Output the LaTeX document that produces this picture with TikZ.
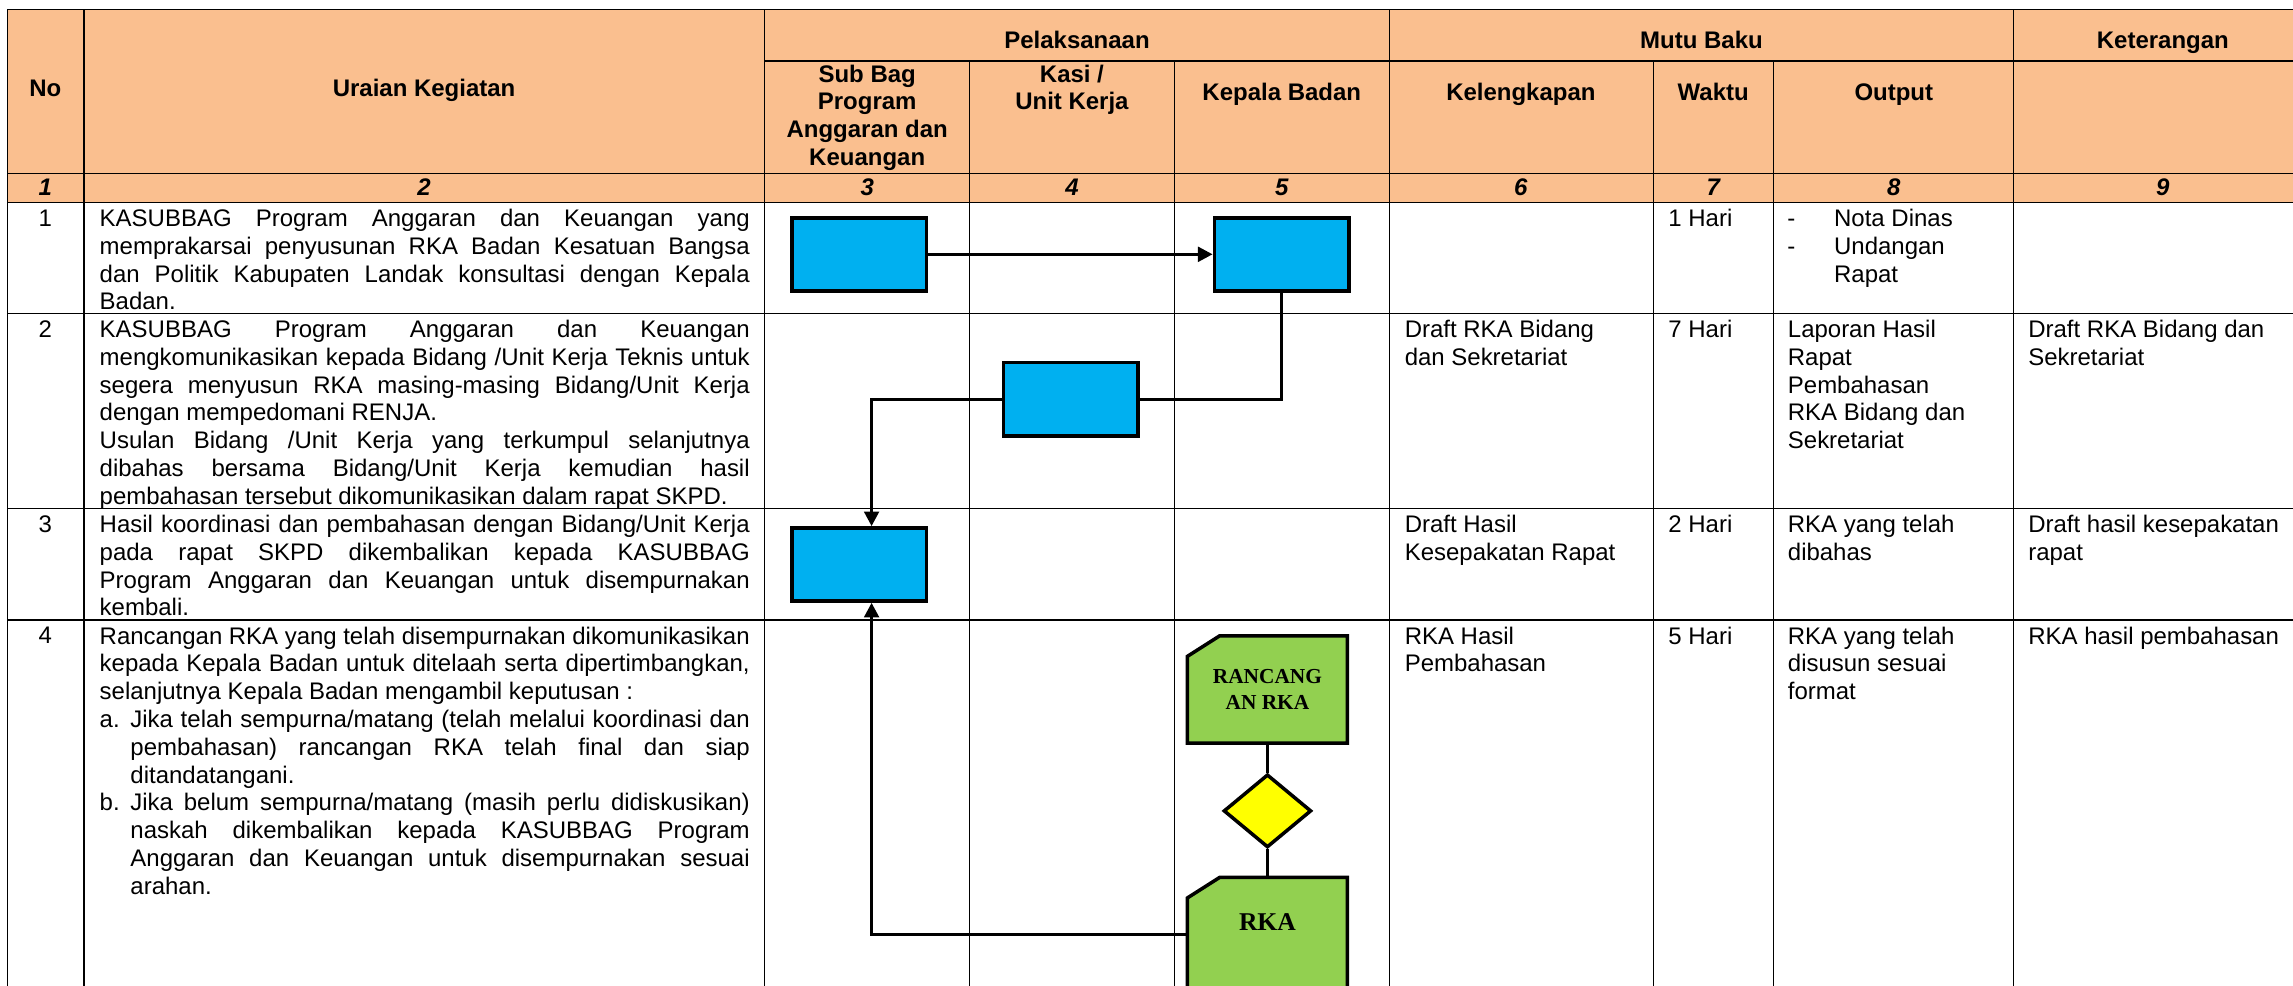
\documentclass[tikz,border=0pt]{standalone}
\usepackage{fontspec}
\setmainfont{Liberation Sans}
\newfontfamily\cardserif{Liberation Serif}
\usetikzlibrary{arrows.meta,shapes.geometric}

\definecolor{headfill}{HTML}{FABF8F}
\definecolor{stepblue}{HTML}{00B0F0}
\definecolor{docgreen}{HTML}{92D050}
\definecolor{choiceyellow}{HTML}{FFFF00}

\newcommand{\cellfont}{\fontsize{16.4}{19}\selectfont\frenchspacing\hyphenpenalty=10000\exhyphenpenalty=10000\tolerance=10000\hbadness=10000}
\newcommand{\headfont}{\fontsize{16.4}{19}\selectfont\bfseries}
\newcommand{\numfont}{\fontsize{16.4}{19}\selectfont\bfseries\itshape}
\newcommand{\tallstrut}{\rule{0pt}{12.2pt}}
\newcommand{\listlabel}[1]{\makebox[21pt][l]{#1}}
\newcommand{\dashlabel}[1]{\makebox[32pt][l]{#1}}
% green document card with the top-left corner cut off
\newcommand{\cardoutline}[1]{%
  \filldraw[cardedge] ([xshift=22pt]#1.north west) -- (#1.north east) -- (#1.south east)
    -- (#1.south west) -- ([yshift=-14pt]#1.north west) -- cycle;}

\tikzset{
  tableline/.style={line width=0.9pt, draw=black},
  stepbox/.style={rectangle, draw=black, line width=2.4pt, fill=stepblue,
    minimum width=92pt, minimum height=50pt, inner sep=0pt},
  cardbox/.style={rectangle, minimum width=109pt, inner sep=0pt},
  cardedge/.style={draw=black, line width=2.4pt, fill=docgreen},
  choice/.style={diamond, draw=black, line width=2.4pt, fill=choiceyellow,
    minimum width=60pt, minimum height=50pt, inner sep=0pt},
  cardtext/.style={font=\fontsize{14.6}{17.8}\selectfont\cardserif\bfseries, align=center, inner sep=0pt},
  cardbig/.style={font=\fontsize{17.5}{20}\selectfont\cardserif\bfseries, inner sep=0pt, anchor=base},
  link/.style={line width=2.2pt, draw=black},
  linkarrow/.style={link, -{Triangle[length=10pt,width=10pt]}},
  headtext/.style={font=\headfont, inner sep=0pt},
  numtext/.style={font=\numfont, anchor=base, inner sep=0pt},
  rownum/.style={font=\cellfont, anchor=base, inner sep=0pt},
  celltext/.style={font=\cellfont, anchor=north west, inner sep=0pt, align=left},
  paratext/.style={font=\cellfont, anchor=north west, inner sep=0pt, text width=444.5pt, align=justify},
}

\begin{document}
\begin{tikzpicture}[x=1pt, y=-1pt]
\useasboundingbox (0,0) rectangle (1568,674);
\clip (0,0) rectangle (1568,674);

% header background
\fill[headfill] (5,6.4) rectangle (1590,138.4);

% table grid
\draw[tableline] (5,6.4) -- (1590,6.4);
\draw[tableline] (523,41.7) -- (1590,41.7);
\foreach \y in {118.5,138.4,214.3,347.6,424}
  \draw[tableline] (5,\y) -- (1590,\y);
\foreach \x in {5,57.5,523,950,1377}
  \draw[tableline] (\x,6.4) -- (\x,690);
\foreach \x in {663,803,1130.5,1212.6}
  \draw[tableline] (\x,41.7) -- (\x,690);

% header labels
\node[headtext, anchor=base] (hNo) at (31,66) {No};
\node[headtext, anchor=base] (hUraian) at (290,66) {Uraian Kegiatan};
\node[headtext, anchor=base] (hPel) at (736.5,33.5) {Pelaksanaan};
\node[headtext, anchor=base] (hMutu) at (1163.5,33.5) {Mutu Baku};
\node[headtext, anchor=base] (hKet) at (1479,33.5) {Keterangan};
\node[headtext, anchor=north, align=center] (hSub) at (593,43.8)
  {\tallstrut Sub Bag\\Program\\Anggaran dan\\Keuangan};
\node[headtext, anchor=north, align=center] (hKasi) at (733,43.8)
  {\tallstrut Kasi /\\Unit Kerja};
\node[headtext, anchor=base] (hKep) at (876.5,68.5) {Kepala Badan};
\node[headtext, anchor=base] (hLeng) at (1040,68.5) {Kelengkapan};
\node[headtext, anchor=base] (hWaktu) at (1171.5,68.5) {Waktu};
\node[headtext, anchor=base] (hOut) at (1295,68.5) {Output};

% column numbers
\foreach \x/\n in {31/1,290/2,593/3,733/4,876.5/5,1040/6,1171.5/7,1295/8,1479/9}
  \node[numtext] (col\n) at (\x,134) {\n};

% row 1
\node[rownum] (n1) at (31,154.7) {1};
\node[paratext] (u1) at (68,142.5) {\tallstrut KASUBBAG Program Anggaran dan Keuangan yang\linebreak
memprakarsai penyusunan RKA Badan Kesatuan Bangsa\linebreak
dan Politik Kabupaten Landak konsultasi dengan Kepala\linebreak
Badan.\par};
\node[celltext] (t1) at (1140.7,142.5) {\tallstrut 1 Hari};
\node[celltext] (o1) at (1222,142.5)
  {\tallstrut\dashlabel{-}Nota Dinas\\\dashlabel{-}Undangan\\\hspace*{32pt}Rapat};

% row 2
\node[rownum] (n2) at (31,230.6) {2};
\node[paratext] (u2) at (68,218.4) {\tallstrut KASUBBAG Program Anggaran dan Keuangan\linebreak
mengkomunikasikan kepada Bidang /Unit Kerja Teknis untuk\linebreak
segera menyusun RKA masing-masing Bidang/Unit Kerja\linebreak
dengan mempedomani RENJA.\par
Usulan Bidang /Unit Kerja yang terkumpul selanjutnya\linebreak
dibahas bersama Bidang/Unit Kerja kemudian hasil\linebreak
pembahasan tersebut dikomunikasikan dalam rapat SKPD.\par};
\node[celltext] (k2) at (960.4,218.4) {\tallstrut Draft RKA Bidang\\dan Sekretariat};
\node[celltext] (t2) at (1140.7,218.4) {\tallstrut 7 Hari};
\node[celltext] (o2) at (1222.4,218.4)
  {\tallstrut Laporan Hasil\\Rapat\\Pembahasan\\RKA Bidang dan\\Sekretariat};
\node[celltext] (c2) at (1386.8,218.4) {\tallstrut Draft RKA Bidang dan\\Sekretariat};

% row 3
\node[rownum] (n3) at (31,363.9) {3};
\node[paratext] (u3) at (68,351.7) {\tallstrut Hasil koordinasi dan pembahasan dengan Bidang/Unit Kerja\linebreak
pada rapat SKPD dikembalikan kepada KASUBBAG\linebreak
Program Anggaran dan Keuangan untuk disempurnakan\linebreak
kembali.\par};
\node[celltext] (k3) at (960.4,351.7) {\tallstrut Draft Hasil\\Kesepakatan Rapat};
\node[celltext] (t3) at (1140.7,351.7) {\tallstrut 2 Hari};
\node[celltext] (o3) at (1222.4,351.7) {\tallstrut RKA yang telah\\dibahas};
\node[celltext] (c3) at (1386.8,351.7) {\tallstrut Draft hasil kesepakatan\\rapat};

% row 4
\node[rownum] (n4) at (31,440.3) {4};
\node[paratext] (u4) at (68,428.1) {\tallstrut Rancangan RKA yang telah disempurnakan dikomunikasikan\linebreak
kepada Kepala Badan untuk ditelaah serta dipertimbangkan,\linebreak
selanjutnya Kepala Badan mengambil keputusan :\par
\hangindent=21pt\hangafter=1\listlabel{a.}Jika telah sempurna/matang (telah melalui koordinasi dan\linebreak
pembahasan) rancangan RKA telah final dan siap\linebreak
ditandatangani.\par
\hangindent=21pt\hangafter=1\listlabel{b.}Jika belum sempurna/matang (masih perlu didiskusikan)\linebreak
naskah dikembalikan kepada KASUBBAG Program\linebreak
Anggaran dan Keuangan untuk disempurnakan sesuai\linebreak
arahan.\par};
\node[celltext] (k4) at (960.4,428.1) {\tallstrut RKA Hasil\\Pembahasan};
\node[celltext] (t4) at (1140.7,428.1) {\tallstrut 5 Hari};
\node[celltext] (o4) at (1222.4,428.1) {\tallstrut RKA yang telah\\disusun sesuai\\format};
\node[celltext] (c4) at (1386.8,428.1) {\tallstrut RKA hasil pembahasan};

% flow: process boxes
\node[stepbox] (sA) at (587.6,173.9) {};
\node[stepbox] (sB) at (876.4,173.9) {};
\node[stepbox] (sC) at (732.2,273) {};
\node[stepbox] (sD) at (587.6,386) {};
\coordinate (bendC) at (596,273);

% flow: documents and decision
\node[cardbox, minimum height=73pt] (g1) at (866.7,471.5) {};
\cardoutline{g1}
\node[cardtext] (g1t) at (g1.center) {RANCANG\\AN RKA};
\node[choice] (dia) at (866.7,554.5) {};
\node[cardbox, minimum height=90pt] (g2) at (866.7,645.2) {};
\cardoutline{g2}
\node[cardbig] (g2t) at (866.7,636.4) {RKA};

% flow: connectors
\draw[linkarrow] (sA.east) -- (sB.west);
\draw[link] (sB.south) |- (sC.east);
\draw[linkarrow] (sC.west) -- (bendC) -- (bendC |- sD.north);
\draw[link] (g1.south) -- (dia.north);
\draw[link] (dia.south) -- (g2.north);
\draw[linkarrow] ([yshift=6pt]g2.west) -| (sD.south -| bendC);
\end{tikzpicture}
\end{document}
